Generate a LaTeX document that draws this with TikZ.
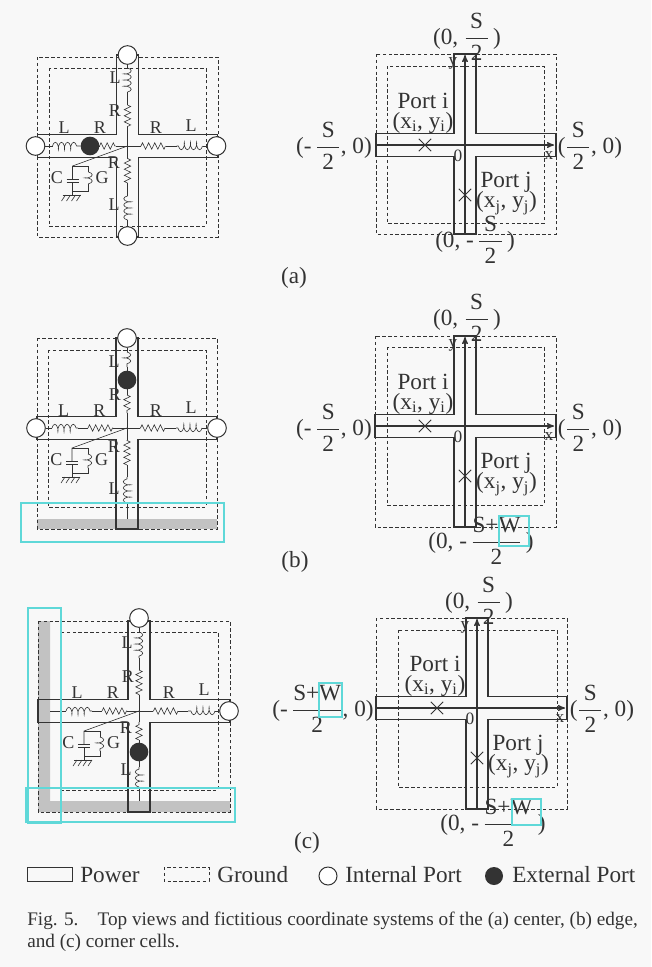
\documentclass[tikz,border=0pt]{standalone}
\usepackage{amsmath, fontspec}
\setmainfont{Liberation Serif}
\usepackage{tikz}
\usetikzlibrary{arrows}
\usetikzlibrary{decorations.pathmorphing}
\usetikzlibrary{shapes.misc}
\definecolor{pagebg}{HTML}{F8F8F8}
\definecolor{ink}{HTML}{333333}
\definecolor{marker}{HTML}{5FD8D8}
\tikzset{
    x=0.75pt, y=-0.75pt,
    every node/.append style={
        text=ink,
        inner sep=0pt
    },
    lumped/.style={
        font=\fontsize{13.5}{15}\selectfont
    },
    bigtext/.style={
        font=\fontsize{17.4}{19}\selectfont
    },
    power/.style={
        draw=ink,
        line width=0.9pt
    },
    ground/.style={
        draw=ink,
        line width=0.65pt,
        dash pattern=on 2.6pt off 1.8pt
    },
    wire/.style={
        draw=ink,
        line width=0.45pt
    },
    coilwire/.style={
        wire,
        decorate,
        decoration={coil, aspect=0.35, segment length=4.6pt, amplitude=2.8pt}
    },
    zigwire/.style={
        wire,
        decorate,
        decoration={zigzag, segment length=4.6pt, amplitude=2.4pt}
    },
    intport/.style={
        circle,
        draw=ink,
        fill=white,
        line width=0.75pt,
        minimum size=14pt
    },
    extport/.style={
        circle,
        fill=ink,
        minimum size=14pt
    },
    portmark/.style={
        cross out,
        draw=ink,
        line width=0.75pt,
        minimum size=8.5pt
    },
    axis/.style={
        draw=ink,
        line width=0.9pt,
        ->,>=stealth'
    },
    shade/.style={
        fill=black!24
    },
    marked/.style={
        draw=marker,
        line width=1.1pt
    },
    rcshunt/.pic={
        \coordinate (-o) at (0,0);
        \coordinate (-t) at (-55,20);
        \coordinate (-p) at (-55,33);
        \coordinate (-q) at (-55,36);
        \coordinate (-f) at (-55,49);
        \coordinate (-g) at (-39,20);
        \coordinate (-h) at (-39,26);
        \coordinate (-i) at (-39,40);
        \coordinate (-j) at (-39,45);
        \coordinate (-k) at (-55,45);
        \draw[wire] (-o) -- (-t) -- (-p);
        \draw[wire] (-t) -- (-g) -- (-h);
        \draw[coilwire] (-h) -- (-i);
        \draw[wire] (-i) -- (-j) -- (-k);
        \draw[wire] (-q) -- (-f);
        \draw[wire, line width=0.7pt] (-61,33) -- (-49,33) (-61,36) -- (-49,36);
        \draw[wire] (-65,49) -- (-47,49);
        \foreach \hx in {-62,-57,-52,-47}
            \draw[wire] (\hx,49) -- ++(-4,6);
        \node[lumped] (-cap) at (-70.5,32) {C};
        \node[lumped] (-res) at (-25.5,32) {G};
    }
}

% cross of the power plane, centred on the current origin
\newcommand{\powercross}[4]{
    \draw[power] (#1,-11.5) -- (-11,-11.5) -- (-11,#3) -- (11,#3) -- (11,-11.5)
        -- (#2,-11.5) -- (#2,11.5) -- (11,11.5) -- (11,#4) -- (-11,#4)
        -- (-11,11.5) -- (#1,11.5) -- cycle;
}
% one branch: from, coil start, coil end, zigzag start, zigzag end, to
\newcommand{\lumpedarm}[6]{
    \coordinate (#1#6a) at #2;
    \coordinate (#1#6b) at #3;
    \coordinate (#1#6c) at #4;
    \coordinate (#1#6d) at #5;
    \draw[wire] (#1) -- (#1#6a);
    \draw[coilwire] (#1#6a) -- (#1#6b);
    \draw[wire] (#1#6b) -- (#1#6c);
    \draw[zigwire] (#1#6c) -- (#1#6d);
    \draw[wire] (#1#6d) -- (#6);
}
% fictitious coordinate system: name, left, right, top, bottom
\newcommand{\coordcell}[5]{
    \powercross{#2}{#3}{#4}{#5}
    \coordinate (#1xs) at (#2,0);
    \coordinate (#1xe) at (#3-2,0);
    \coordinate (#1ys) at (0,#5);
    \coordinate (#1ye) at (0,#4+1);
    \draw[axis] (#1xs) -- (#1xe);
    \draw[axis] (#1ys) -- (#1ye);
    \node[portmark] (#1mi) at (-40,0) {};
    \node[portmark] (#1mj) at (0,50) {};
    \node[bigtext] (#1pi) at (-42,-44) {Port i};
    \node[bigtext] (#1ci) at (-42,-22.5) {(x$_\text{i}$, y$_\text{i}$)};
    \node[bigtext] (#1pj) at (41,37) {Port j};
    \node[bigtext] (#1cj) at (41.5,58) {(x$_\text{j}$, y$_\text{j}$)};
    \node[lumped, font=\fontsize{13}{15}\selectfont] (#1yl) at (-12,#4+9) {y};
    \node[lumped, font=\fontsize{13}{15}\selectfont] (#1xl) at (#3-7,11) {x};
    \node[lumped, font=\fontsize{13}{15}\selectfont] (#1zl) at (-7,11) {0};
}
\newcommand{\halfS}{$\dfrac{\hspace{0.2em}\text{S}\hspace{0.2em}}{\text{2}}$}
\newcommand{\halfSW}{$\dfrac{\text{S+W}}{\text{2}}$}

\begin{document}
\begin{tikzpicture}
    \useasboundingbox[fill=pagebg] (0,0) rectangle (651,967);

    % (a) center cell
    \begin{scope}[shift={(127.5,146)}]
        \draw[ground] (-90,-89) rectangle (90.5,91);
        \draw[ground] (-78.5,-78) rectangle (78.5,80);
        \powercross{-90}{90}{-91}{91}
        \coordinate (aO) at (0,0);
        \node[intport] (aW) at (-92,0) {};
        \node[intport] (aE) at (89,0) {};
        \node[intport] (aN) at (0,-91) {};
        \node[intport] (aS) at (0,90) {};
        \lumpedarm{aW}{(-75,0)}{(-47,0)}{(-28,0)}{(-12,0)}{aO}
        \lumpedarm{aE}{(75,0)}{(49,0)}{(38,0)}{(13,0)}{aO}
        \lumpedarm{aN}{(0,-78)}{(0,-51)}{(0,-41)}{(0,-18)}{aO}
        \lumpedarm{aS}{(0,74)}{(0,49)}{(0,37)}{(0,12)}{aO}
        \node[extport] (aX) at (-37.5,0) {};
        \pic (aRC) at (0,0) {rcshunt};
        \node[lumped] (aL1) at (-63.5,-18) {L};
        \node[lumped] (aR1) at (-27.5,-18) {R};
        \node[lumped] (aR2) at (28.5,-18) {R};
        \node[lumped] (aL2) at (63.5,-20) {L};
        \node[lumped] (aL3) at (-12.5,-68) {L};
        \node[lumped] (aR3) at (-12.5,-35) {R};
        \node[lumped] (aR4) at (-13.5,17) {R};
        \node[lumped] (aL4) at (-13.5,59) {L};
    \end{scope}
    \begin{scope}[shift={(465,145)}]
        \draw[ground] (-89,-91) rectangle (91,89);
        \draw[ground] (-78,-79) rectangle (79,78);
        \coordcell{p}{-89}{91}{-91}{89}
    \end{scope}
    \node[bigtext] (ptop) at (467,37) {(0, \halfS\,)};
    \node[bigtext] (pbot) at (475,240) {(0, -\,\halfS\,)};
    \node[bigtext] (plft) at (334,146) {(-\,\halfS, 0)};
    \node[bigtext] (prgt) at (590,146) {(\halfS, 0)};
    \node[bigtext] (alab) at (294,278) {(a)};

    % (b) edge cell
    \begin{scope}[shift={(127,428)}]
        \fill[shade] (-90,91) rectangle (90,101);
        \draw[ground] (-90,-90) rectangle (90,101);
        \draw[ground] (-79,-78) rectangle (79,79);
        \powercross{-90}{90}{-90}{101}
        \coordinate (bO) at (0,0);
        \coordinate (bT) at (0,91);
        \node[intport] (bW) at (-91,0) {};
        \node[intport] (bE) at (90,0) {};
        \node[intport] (bN) at (0,-90) {};
        \lumpedarm{bW}{(-75,0)}{(-49,0)}{(-39,0)}{(-14,0)}{bO}
        \lumpedarm{bE}{(75,0)}{(49,0)}{(38,0)}{(13,0)}{bO}
        \lumpedarm{bN}{(0,-76)}{(0,-61)}{(0,-33)}{(0,-15)}{bO}
        \lumpedarm{bT}{(0,75)}{(0,49)}{(0,37)}{(0,12)}{bO}
        \node[extport] (bX) at (0,-48) {};
        \pic (bRC) at (0,0) {rcshunt};
        \node[lumped] (bL1) at (-63.5,-17) {L};
        \node[lumped] (bR1) at (-27.5,-17) {R};
        \node[lumped] (bR2) at (29,-17) {R};
        \node[lumped] (bL2) at (64,-20) {L};
        \node[lumped] (bL3) at (-13,-66) {L};
        \node[lumped] (bR3) at (-12,-33) {R};
        \node[lumped] (bR4) at (-13,19) {R};
        \node[lumped] (bL4) at (-13,61) {L};
        \draw[marked] (-106,75) rectangle (97,114);
    \end{scope}
    \begin{scope}[shift={(465,426)}]
        \draw[ground] (-90,-90) rectangle (91,101);
        \draw[ground] (-78,-79) rectangle (79,79);
        \coordcell{q}{-90}{91}{-90}{101}
    \end{scope}
    \node[bigtext] (qtop) at (467,318) {(0, \halfS\,)};
    \node[bigtext] (qbot) at (481,541) {(0, -\,\halfSW\,)};
    \node[bigtext] (qlft) at (334,428) {(-\,\halfS, 0)};
    \node[bigtext] (qrgt) at (590,428) {(\halfS, 0)};
    \draw[marked] (499,516) rectangle (529,546);
    \node[bigtext] (blab) at (295,562) {(b)};

    % (c) corner cell
    \begin{scope}[shift={(139,711)}]
        \fill[shade] (-101,-90) -- (-89,-90) -- (-89,90) -- (91,90) -- (91,101) -- (-101,101) -- cycle;
        \draw[ground] (-101,-90) rectangle (91,101);
        \draw[ground] (-79,-79) rectangle (79,79);
        \powercross{-101}{91}{-90}{101}
        \coordinate (cO) at (0,0);
        \coordinate (cW) at (-89,0);
        \coordinate (cT) at (0,90);
        \node[intport] (cE) at (90,0) {};
        \node[intport] (cN) at (0,-93) {};
        \lumpedarm{cW}{(-73,0)}{(-47,0)}{(-37,0)}{(-12,0)}{cO}
        \lumpedarm{cE}{(76,0)}{(49,0)}{(39,0)}{(14,0)}{cO}
        \lumpedarm{cN}{(0,-79)}{(0,-53)}{(0,-41)}{(0,-16)}{cO}
        \lumpedarm{cT}{(0,76)}{(0,56)}{(0,29)}{(0,11)}{cO}
        \node[extport] (cX) at (0,41) {};
        \pic (cRC) at (0,0) {rcshunt};
        \node[lumped] (cL1) at (-62,-18) {L};
        \node[lumped] (cR1) at (-26,-18) {R};
        \node[lumped] (cR2) at (30,-18) {R};
        \node[lumped] (cL2) at (65,-21) {L};
        \node[lumped] (cL3) at (-12,-68) {L};
        \node[lumped] (cR3) at (-11,-34) {R};
        \node[lumped] (cR4) at (-13,17) {R};
        \node[lumped] (cL4) at (-13,59) {L};
        \draw[marked] (-111,-103) rectangle (-78,112);
        \draw[marked] (-113,77) rectangle (96,111);
    \end{scope}
    \begin{scope}[shift={(477,708)}]
        \draw[ground] (-101,-90) rectangle (90,101);
        \draw[ground] (-79,-78) rectangle (80,79);
        \coordcell{r}{-101}{90}{-90}{101}
    \end{scope}
    \node[bigtext] (rtop) at (479,601) {(0, \halfS\,)};
    \node[bigtext] (rbot) at (493,823) {(0, -\,\halfSW\,)};
    \node[bigtext] (rlft) at (323,709) {(-\,\halfSW, 0)};
    \node[bigtext] (rrgt) at (602,709) {(\halfS, 0)};
    \draw[marked] (319,683) rectangle (342,717);
    \draw[marked] (512,799) rectangle (541,825);
    \node[bigtext] (clab) at (307,843) {(c)};

    % legend
    \draw[power, line width=0.7pt] (27,867) rectangle (72,881);
    \node[bigtext, anchor=base west] (lpow) at (80,882) {Power};
    \draw[ground, line width=0.55pt] (164,867) rectangle (209,881);
    \node[bigtext, anchor=base west] (lgnd) at (217,882) {Ground};
    \node[intport, minimum size=13.5pt] (lint) at (328,876) {};
    \node[bigtext, anchor=base west] (lintt) at (345,882) {Internal Port};
    \node[extport, minimum size=13.5pt] (lext) at (494,876) {};
    \node[bigtext, anchor=base west] (lextt) at (512,882) {External Port};

    % caption
    \node[anchor=north west, align=left, font=\fontsize{14.4}{17}\selectfont] (cap) at (27,911.5)
        {Fig. 5.\hspace{1em}Top views and fictitious coordinate systems of the (a) center, (b) edge,\\ and (c) corner cells.};
\end{tikzpicture}
\end{document}
